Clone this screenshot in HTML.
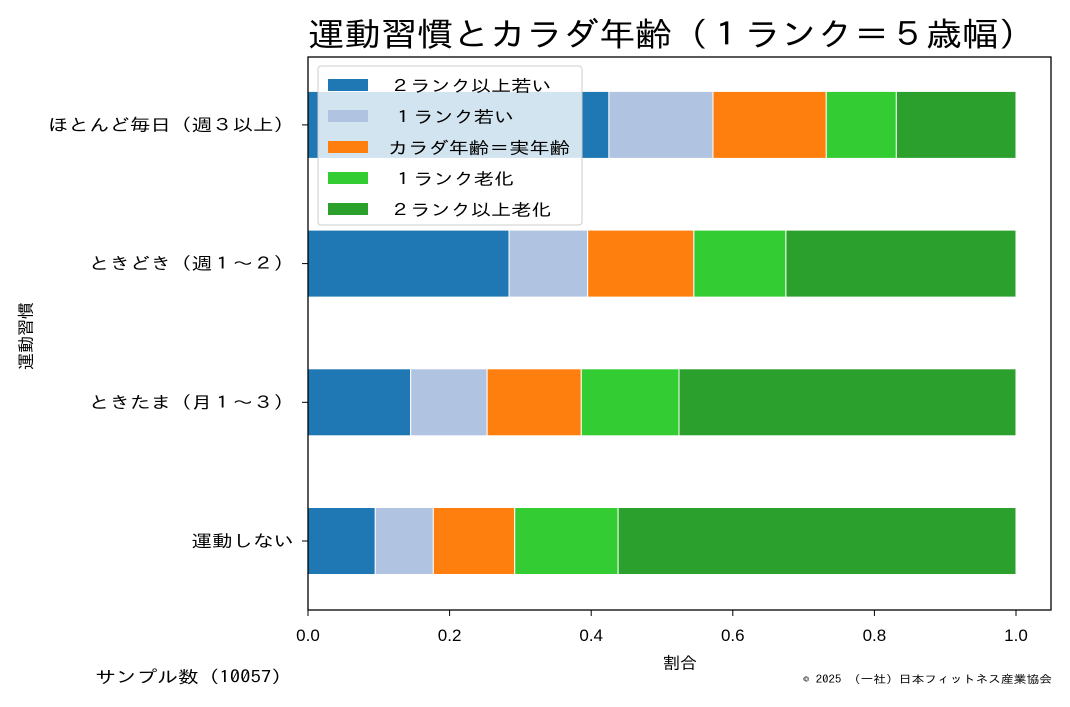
<!DOCTYPE html>
<html><head><meta charset="utf-8"><style>
body{margin:0;background:#fff;}
svg text{font-family:"Liberation Sans","IPAGothic","Noto Sans CJK JP",sans-serif;}
svg text.jp{font-family:"IPAGothic","Noto Sans CJK JP",sans-serif;}
</style></head><body>
<svg id="chart" width="1070" height="702" xmlns="http://www.w3.org/2000/svg">
<text class="jp" x="308" y="46" font-size="33" textLength="727" lengthAdjust="spacingAndGlyphs" fill="#000">運動習慣とカラダ年齢（１ランク＝５歳幅）</text>
<g id="bars"></g>
<rect x="308" y="57" width="743" height="553" fill="none" stroke="#000" stroke-width="1.3"/>
<g id="axes"></g>
<text class="jp" x="680" y="669" font-size="17" text-anchor="middle">割合</text>
<text class="jp" transform="translate(32,336) rotate(-90)" font-size="17" text-anchor="middle">運動習慣</text>
<text class="jp" x="95" y="683" font-size="17" textLength="197" lengthAdjust="spacingAndGlyphs">サンプル数（10057）</text>
<text class="jp" x="803" y="683" font-size="11" textLength="249" lengthAdjust="spacingAndGlyphs">©  2025 （一社）日本フィットネス産業協会</text>
<g id="legend"></g>
</svg>
<script>
const categories=["運動しない","ときたま（月１～３）","ときどき（週１～２）","ほとんど毎日（週３以上）"];
const seriesNames=["２ランク以上若い","１ランク若い","カラダ年齢＝実年齢","１ランク老化","２ランク以上老化"];
const s1=[0.095,0.145,0.284,0.425];
const s2=[0.082,0.108,0.111,0.147];
const s3=[0.115,0.133,0.150,0.160];
const s4=[0.146,0.138,0.130,0.099];
const s5=[0.562,0.476,0.325,0.169];
const xTicks=[0,0.2,0.4,0.6,0.8,1.0];
const xTickLabels=["0.0","0.2","0.4","0.6","0.8","1.0"];
const colors=["#1f77b4","#b0c4e2","#ff7f0e","#33cc33","#2ca02c"];
const NS="http://www.w3.org/2000/svg";
const X=v=>308+v*708;
const Y=i=>541-i*138.7;
const barH=67;
const series=[s1,s2,s3,s4,s5];
const bars=document.getElementById('bars');
categories.forEach((c,i)=>{
  let cum=0;
  series.forEach((s,k)=>{
    const r=document.createElementNS(NS,'rect');
    r.setAttribute('x',X(cum));r.setAttribute('y',Y(i)-barH/2);
    r.setAttribute('width',X(cum+s[i])-X(cum));r.setAttribute('height',barH);
    r.setAttribute('fill',colors[k]);r.setAttribute('stroke','#fff');r.setAttribute('stroke-width','1');
    
    
    bars.appendChild(r);cum+=s[i];
  });
});
const axes=document.getElementById('axes');
xTicks.forEach((t,j)=>{
  const l=document.createElementNS(NS,'line');
  l.setAttribute('x1',X(t));l.setAttribute('x2',X(t));l.setAttribute('y1',610);l.setAttribute('y2',616);l.setAttribute('stroke','#000');
  
  
  axes.appendChild(l);
  const tx=document.createElementNS(NS,'text');
  tx.setAttribute('x',X(t));tx.setAttribute('y',641);tx.setAttribute('font-size','17');tx.setAttribute('text-anchor','middle');
  tx.textContent=xTickLabels[j];
  
  
  axes.appendChild(tx);
});
categories.forEach((c,i)=>{
  const l=document.createElementNS(NS,'line');
  l.setAttribute('x1',302);l.setAttribute('x2',308);l.setAttribute('y1',Y(i));l.setAttribute('y2',Y(i));l.setAttribute('stroke','#000');
  
  
  axes.appendChild(l);
  const tx=document.createElementNS(NS,'text');
  tx.setAttribute('class','jp');
  tx.setAttribute('x',294);tx.setAttribute('y',Y(i)+6);tx.setAttribute('font-size','17');tx.setAttribute('text-anchor','end');
  tx.setAttribute('textLength',c.length*20.5);tx.setAttribute('lengthAdjust','spacingAndGlyphs');
  tx.textContent=c;
  
  
  axes.appendChild(tx);
});
const lg=document.getElementById('legend');
const box=document.createElementNS(NS,'rect');
box.setAttribute('x',318);box.setAttribute('y',66);box.setAttribute('width',264);box.setAttribute('height',159);box.setAttribute('rx',3);
box.setAttribute('fill','rgba(255,255,255,0.8)');box.setAttribute('stroke','#ccc');


lg.appendChild(box);
const legX=[390,393,388,393,390];
seriesNames.forEach((n,k)=>{
  const y=85+k*31;
  const r=document.createElementNS(NS,'rect');
  r.setAttribute('x',328);r.setAttribute('y',y-6);r.setAttribute('width',40);r.setAttribute('height',12);r.setAttribute('fill',colors[k]);
  
  
  lg.appendChild(r);
  const t=document.createElementNS(NS,'text');
  t.setAttribute('class','jp');
  t.setAttribute('x',legX[k]);t.setAttribute('y',y+7);t.setAttribute('font-size','17');
  t.setAttribute('textLength',n.length*20.2);t.setAttribute('lengthAdjust','spacingAndGlyphs');
  t.textContent=n;
  
  
  lg.appendChild(t);
});
</script>
</body></html>
